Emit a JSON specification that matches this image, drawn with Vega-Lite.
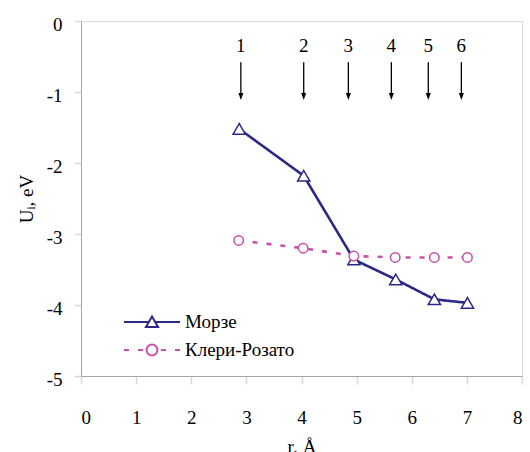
{
  "$schema": "https://vega.github.io/schema/vega-lite/v6.json",
  "width": 441,
  "height": 355,
  "autosize": {"type": "none"},
  "padding": {"left": 81, "top": 21, "right": 8, "bottom": 76},
  "background": "white",
  "config": {
    "font": "Liberation Serif",
    "view": {"stroke": "#d9d9d9", "strokeWidth": 1},
    "style": {
      "guide-label": {"font": "Liberation Serif", "fontSize": 19, "fill": "black"},
      "guide-title": {"font": "Liberation Serif", "fontSize": 19, "fill": "black", "fontWeight": "normal"}
    },
    "axis": {"labelFont": "Liberation Serif", "titleFont": "Liberation Serif"},
    "legend": {"labelFont": "Liberation Serif"}
  },
  "layer": [
    {
      "data": {
        "values": [
          {"series": "Морзе", "r": 2.87, "U": -1.52},
          {"series": "Морзе", "r": 4.04, "U": -2.18},
          {"series": "Морзе", "r": 4.95, "U": -3.36},
          {"series": "Морзе", "r": 5.71, "U": -3.64},
          {"series": "Морзе", "r": 6.41, "U": -3.92},
          {"series": "Морзе", "r": 7.01, "U": -3.97},
          {"series": "Клери-Розато", "r": 2.86, "U": -3.09},
          {"series": "Клери-Розато", "r": 4.03, "U": -3.2},
          {"series": "Клери-Розато", "r": 4.95, "U": -3.31},
          {"series": "Клери-Розато", "r": 5.7, "U": -3.33},
          {"series": "Клери-Розато", "r": 6.41, "U": -3.33},
          {"series": "Клери-Розато", "r": 7.01, "U": -3.33}
        ]
      },
      "layer": [
        {
          "mark": {"type": "line", "strokeWidth": 2.6},
          "encoding": {
            "x": {
              "field": "r", "type": "quantitative", "title": "r, Å",
              "scale": {"domain": [0, 8], "nice": false, "zero": false},
              "axis": {
                "values": [0, 1, 2, 3, 4, 5, 6, 7, 8],
                "format": "d",
                "grid": false,
                "domainColor": "#a6a6a6",
                "tickColor": "#d9d9d9",
                "tickWidth": 1.5,
                "tickSize": 8,
                "labelFont": "Liberation Serif",
                "labelFontSize": 19,
                "labelColor": "black",
                "labelPadding": 24,
                "titleFont": "Liberation Serif",
                "titleFontSize": 19,
                "titleFontWeight": "normal",
                "titleColor": "black",
                "titlePadding": 10
              }
            },
            "y": {
              "field": "U", "type": "quantitative", "title": "Uᵢ, eV",
              "scale": {"domain": [-5, 0], "nice": false, "zero": false},
              "axis": {
                "values": [-5, -4, -3, -2, -1, 0],
                "labelExpr": "'' + datum.value",
                "grid": false,
                "domainColor": "#a6a6a6",
                "tickColor": "#d9d9d9",
                "tickWidth": 1.5,
                "tickSize": 7,
                "labelFont": "Liberation Serif",
                "labelFontSize": 19,
                "labelColor": "black",
                "labelPadding": 12,
                "labelOffset": 3,
                "titleFont": "Liberation Serif",
                "titleFontSize": 19,
                "titleFontWeight": "normal",
                "titleColor": "black",
                "titlePadding": 10
              }
            },
            "stroke": {
              "field": "series", "type": "nominal",
              "scale": {"domain": ["Морзе", "Клери-Розато"], "range": ["#2A2A86", "#C94FA9"]},
              "legend": {
                "orient": "none",
                "legendX": 56,
                "legendY": 286,
                "title": null,
                "padding": 0,
                "symbolSize": 784,
                "symbolStrokeWidth": 2,
                "symbolFillColor": "white",
                "labelFont": "Liberation Serif",
                "labelFontSize": 19,
                "labelColor": "black",
                "labelOffset": 18,
                "labelLimit": 300,
                "rowPadding": 3,
                "encode": {
                  "symbols": {
                    "update": {
                      "shape": {"signal": "datum.value === 'Морзе' ? 'M-2,0L-0.23,0M0.23,0L2,0M0,-0.4L0.43,0.35L-0.43,0.35Z' : 'M-2,0L-1.64,0M-1,0L-0.64,0M0.64,0L1,0M1.64,0L2,0M0.39,0A0.39,0.39 0 1,1 -0.39,0A0.39,0.39 0 1,1 0.39,0Z'"},
                      "fill": {"value": "white"},
                      "strokeWidth": {"value": 2},
                      "strokeDash": {"value": []},
                      "opacity": {"value": 1}
                    }
                  }
                }
              }
            },
            "strokeDash": {
              "condition": {"test": "datum.series === 'Клери-Розато'", "value": [5, 9]},
              "value": [1, 0]
            },
            "strokeWidth": {
              "condition": {"test": "datum.series === 'Клери-Розато'", "value": 3},
              "value": 2.6
            }
          }
        },
        {
          "mark": {"type": "point", "filled": true, "fill": "white", "fillOpacity": 1, "opacity": 1, "strokeWidth": 1.5},
          "encoding": {
            "x": {"field": "r", "type": "quantitative", "title": "r, Å"},
            "y": {"field": "U", "type": "quantitative", "title": "Uᵢ, eV"},
            "stroke": {"field": "series", "type": "nominal"},
            "shape": {
              "condition": {"test": "datum.series === 'Клери-Розато'", "value": "circle"},
              "value": "triangle-up"
            },
            "size": {
              "condition": {"test": "datum.series === 'Клери-Розато'", "value": 90},
              "value": 150
            }
          }
        }
      ]
    },
    {
      "data": {
        "values": [
          {"n": "1", "r": 2.9},
          {"n": "2", "r": 4.04},
          {"n": "3", "r": 4.85},
          {"n": "4", "r": 5.63},
          {"n": "5", "r": 6.3},
          {"n": "6", "r": 6.9}
        ]
      },
      "layer": [
        {
          "mark": {"type": "rule", "color": "black", "strokeWidth": 1.3},
          "encoding": {
            "x": {"field": "r", "type": "quantitative", "title": "r, Å"},
            "y": {"datum": -0.58, "type": "quantitative", "title": "Uᵢ, eV"},
            "y2": {"datum": -1.05}
          }
        },
        {
          "mark": {"type": "point", "shape": "M-0.5,-0.7L0.5,-0.7L0,0.7Z", "filled": true, "color": "black", "opacity": 1, "size": 100},
          "encoding": {
            "x": {"field": "r", "type": "quantitative", "title": "r, Å"},
            "y": {"datum": -1.063, "type": "quantitative", "title": "Uᵢ, eV"}
          }
        },
        {
          "mark": {"type": "text", "font": "Liberation Serif", "fontSize": 19, "baseline": "middle", "align": "center", "color": "black"},
          "encoding": {
            "x": {"field": "r", "type": "quantitative", "title": "r, Å"},
            "y": {"datum": -0.35, "type": "quantitative", "title": "Uᵢ, eV"},
            "text": {"field": "n"}
          }
        }
      ]
    }
  ]
}
